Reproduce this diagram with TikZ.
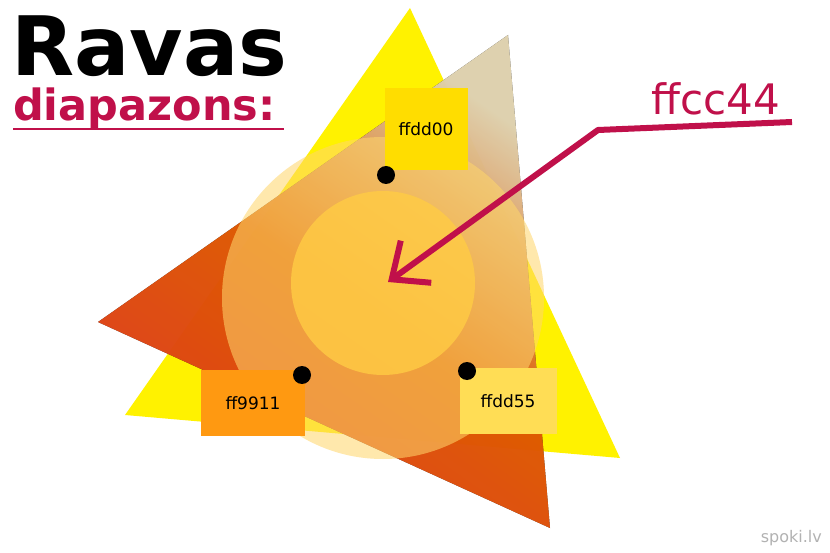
\documentclass[tikz,border=0pt]{standalone}
\usepackage{fontspec}
\setmainfont{DejaVu Sans}
\usetikzlibrary{arrows.meta}
\definecolor{crim}{HTML}{C0104A}
\definecolor{fdd}{HTML}{FFDD00}
\definecolor{f99}{HTML}{FF9911}
\definecolor{fd5}{HTML}{FFDD55}
\definecolor{fc4}{HTML}{FFCC44}
\definecolor{redor}{HTML}{FF4422}
\definecolor{pale}{HTML}{FFF0C8}
\begin{document}
\begin{tikzpicture}[x=1pt,y=-1pt,
  lab/.style={font=\fontsize{17}{17}\selectfont, text=black},
  dot/.style={circle,fill=black,inner sep=0pt,minimum size=18pt}]
\useasboundingbox (0,0) rectangle (830,553);
\fill[white] (0,0) rectangle (830,553);
% yellow triangle
\fill[yellow] (410,8) -- (125,415) -- (620,458) -- cycle;
% red/orange triangle
\fill[top color=pale, bottom color=redor, middle color=orange!80!red, shading angle=-35, opacity=0.85]
  (98,322) -- (508,35) -- (550,528) -- cycle;
% big circle
\fill[fc4, opacity=0.5] (383,298) circle (161);
\fill[white, opacity=0.12] (383,298) circle (161);
% inner circle
\fill[fc4, opacity=0.8] (383,283) circle (92);
% boxes
\node[fill=fdd, minimum width=83pt, minimum height=82pt, inner sep=0pt, lab] (b1) at (426,129) {ffdd00};
\node[fill=f99, minimum width=104pt, minimum height=66pt, inner sep=0pt, lab] (b2) at (253,403) {ff9911};
\node[fill=fd5, minimum width=97pt, minimum height=66pt, inner sep=0pt, lab] (b3) at (508,401) {ffdd55};
\node[dot] (d1) at (386,175) {};
\node[dot] (d2) at (302,375) {};
\node[dot] (d3) at (467,371) {};
% arrow
\coordinate (s) at (792,122);
\coordinate (k) at (598,130);
\coordinate (c) at (388,282);
\draw[crim, line width=6pt, line join=round, -{Straight Barb[length=30pt,width=52pt,line width=6pt]}] (s) -- (k) -- (c);
% texts
\node[text=crim, font=\fontsize{42}{42}\selectfont, anchor=base] (t1) at (716,115) {ffcc44};
\node[font=\bfseries\fontsize{82}{82}\selectfont, anchor=base west, inner sep=0pt] (t2) at (11,76) {Ravas};
\node[text=crim, font=\bfseries\fontsize{43}{43}\selectfont, anchor=base west, inner sep=0pt] (t3) at (13,121) {diapazons:};
\draw[crim, line width=2.5pt] (13,129) -- (284,129);
\node[text=gray!60, font=\fontsize{16}{16}\selectfont, anchor=base east, inner sep=0pt] (w) at (822,542) {spoki.lv};
\end{tikzpicture}
\end{document}
